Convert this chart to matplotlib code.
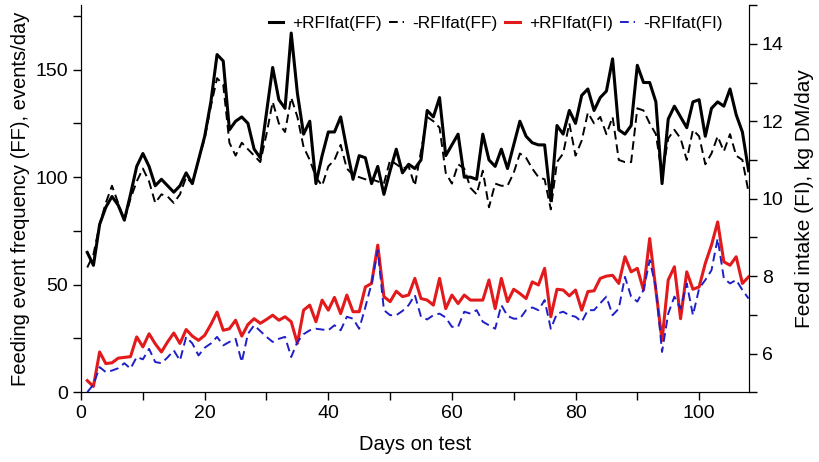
import numpy as np
from matplotlib import pyplot as plt
from matplotlib.ticker import MultipleLocator

plt.rcParams['font.family'] = ['Liberation Sans', 'DejaVu Sans']

days = np.arange(1, 109)

# Feeding event frequency, events/day (left axis)
plus_ff = [65, 59, 78, 86, 91, 87, 80, 92, 105, 111, 105, 96, 99, 96, 93, 96, 102, 97, 108, 119,
           135, 157, 154, 122, 126, 128, 125, 113, 109, 130, 151, 136, 132, 167, 139, 120, 126, 97, 110, 121,
           121, 128, 113, 99, 110, 109, 97, 105, 92, 103, 113, 102, 106, 104, 108, 131, 128, 137, 110, 115,
           120, 100, 100, 99, 120, 108, 105, 113, 104, 115, 126, 119, 116, 115, 115, 89, 124, 120, 131, 125,
           138, 141, 131, 137, 140, 155, 122, 120, 124, 152, 144, 144, 135, 97, 127, 133, 128, 123, 135, 136,
           119, 132, 135, 133, 141, 129, 121, 103]
minus_ff = [58, 64, 78, 88, 96, 88, 80, 90, 98, 104, 98, 88, 92, 91, 88, 92, 100, 97, 108, 118,
            133, 146, 143, 116, 110, 116, 113, 110, 107, 120, 135, 125, 121, 137, 128, 114, 108, 100, 96, 105,
            108, 115, 104, 101, 100, 99, 99, 98, 97, 108, 106, 104, 105, 96, 112, 128, 126, 123, 102, 97,
            106, 104, 95, 92, 103, 86, 97, 96, 96, 102, 111, 109, 104, 100, 99, 85, 107, 111, 125, 110,
            117, 130, 125, 128, 120, 128, 108, 107, 107, 132, 131, 125, 120, 101, 118, 122, 118, 108, 122, 119,
            106, 111, 119, 112, 120, 110, 108, 93]

# Feed intake, kg DM/day (right axis)
plus_fi = [5.3, 5.15, 6.04, 5.74, 5.76, 5.88, 5.9, 5.92, 6.43, 6.17, 6.51, 6.25, 6.04, 6.3, 6.53, 6.26, 6.62, 6.45, 6.34, 6.47,
           6.75, 7.07, 6.6, 6.64, 6.86, 6.45, 6.75, 6.9, 6.78, 6.88, 6.99, 6.86, 6.95, 6.82, 6.26, 7.12, 7.25, 6.82, 7.38, 7.12,
           7.45, 7.03, 7.51, 7.08, 7.08, 7.72, 7.81, 8.8, 7.47, 7.34, 7.61, 7.47, 7.51, 7.94, 7.42, 7.38, 7.25, 7.94, 7.16, 7.51,
           7.29, 7.51, 7.38, 7.38, 7.38, 7.9, 7.16, 7.94, 7.34, 7.66, 7.55, 7.42, 7.85, 7.77, 8.2, 6.95, 7.66, 7.64, 7.49, 7.64,
           7.12, 7.6, 7.62, 7.94, 8.0, 8.02, 7.81, 8.5, 8.11, 8.2, 7.64, 8.97, 7.64, 6.34, 7.9, 8.24, 6.9, 8.11, 7.66, 7.72,
           8.33, 8.8, 9.4, 8.37, 8.28, 8.5, 7.81, 7.98]
minus_fi = [5.0, 5.2, 5.65, 5.52, 5.56, 5.62, 5.75, 5.61, 5.91, 5.85, 6.12, 5.78, 5.75, 5.9, 6.08, 5.82, 6.43, 6.26, 5.95, 6.15,
            6.26, 6.43, 6.21, 6.3, 6.38, 5.78, 6.51, 6.73, 6.58, 6.43, 6.3, 6.38, 6.43, 5.91, 6.3, 6.5, 6.6, 6.64, 6.62, 6.6,
            6.73, 6.6, 6.95, 6.9, 6.64, 7.2, 7.81, 8.67, 7.12, 6.99, 6.99, 7.1, 7.25, 7.51, 6.95, 6.88, 6.99, 7.03, 6.93, 6.69,
            6.69, 7.08, 7.03, 7.12, 6.82, 6.73, 6.64, 7.25, 6.97, 6.9, 6.9, 7.12, 7.19, 7.12, 7.38, 6.64, 7.03, 7.08, 6.99, 6.95,
            6.82, 7.12, 7.12, 7.3, 7.47, 6.99, 7.16, 7.98, 7.47, 7.34, 7.64, 8.41, 7.72, 6.04, 7.03, 7.47, 7.16, 7.81, 6.99, 7.68,
            7.9, 8.15, 8.97, 7.94, 7.81, 7.9, 7.64, 7.42]

fig = plt.figure(figsize=(8.19, 4.62), dpi=100)
ax = fig.add_axes([0.099, 0.151, 0.815, 0.838])
ax2 = ax.twinx()

l1, = ax.plot(days, plus_ff, color='black', lw=2.2, label='+RFIfat(FF)')
l2, = ax.plot(days, minus_ff, color='black', lw=1.4, ls=(0, (4.5, 2.5)), label='-RFIfat(FF)')
l3, = ax2.plot(days, plus_fi, color='#e31a1c', lw=2.2, label='+RFIfat(FI)')
l4, = ax2.plot(days, minus_fi, color='#1f1fc8', lw=1.4, ls=(0, (4.5, 2.5)), label='-RFIfat(FI)')

ax.set_xlim(0, 108)
ax.set_ylim(0, 180)
ax2.set_ylim(5, 15)

ax.xaxis.set_major_locator(MultipleLocator(20))
ax.xaxis.set_minor_locator(MultipleLocator(10))
ax.yaxis.set_major_locator(MultipleLocator(50))
ax.yaxis.set_minor_locator(MultipleLocator(25))
ax2.yaxis.set_major_locator(MultipleLocator(2))
ax2.yaxis.set_minor_locator(MultipleLocator(1))

for a in (ax, ax2):
    a.spines['top'].set_visible(False)
    a.tick_params(which='major', length=6, width=1, labelsize=14, direction='out')
    a.tick_params(which='minor', length=6, width=1, direction='out')

ax.set_xlabel('Days on test', fontsize=14.5, labelpad=9)
ax.set_ylabel('Feeding event frequency (FF), events/day', fontsize=14.5)
ax2.set_ylabel('Feed intake (FI), kg DM/day', fontsize=15, rotation=90, labelpad=8)

ax.legend(handles=[l1, l2, l3, l4], loc='upper right', bbox_to_anchor=(0.985, 1.012), ncol=4,
          frameon=False, fontsize=12.4, handlelength=0.85, columnspacing=0.45, handletextpad=0.5)

plt.savefig('out.png', dpi=100)
